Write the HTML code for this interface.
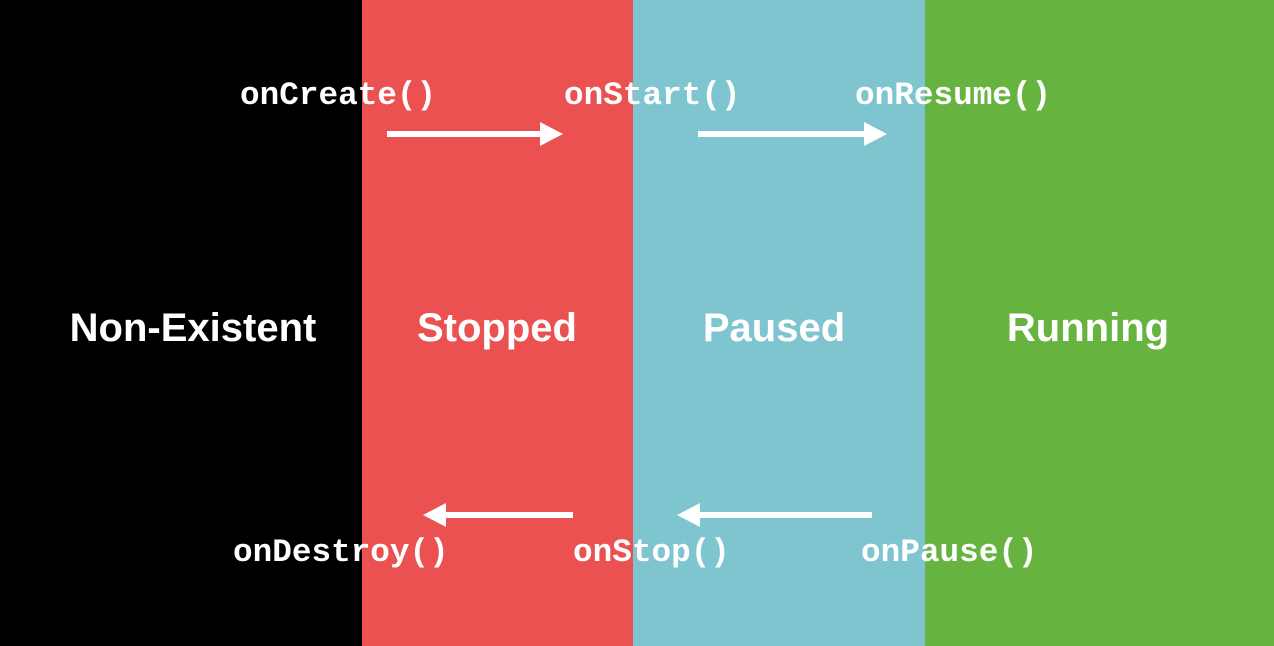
<!DOCTYPE html>
<html><head><style>
body{margin:0;width:1274px;height:646px;position:relative;overflow:hidden;background:#000}
.c{position:absolute;top:0;height:646px}
.m{position:absolute;font-family:"Liberation Mono",monospace;font-weight:bold;font-size:32.7px;color:#fff;line-height:1;white-space:nowrap}
.s{position:absolute;font-family:"Liberation Sans",sans-serif;font-weight:bold;font-size:40px;color:#fff;line-height:1;top:308px;text-align:center;white-space:nowrap}
</style></head><body>
<div class="c" style="left:362px;width:271px;background:#EA5150"></div>
<div class="c" style="left:633px;width:292px;background:#7EC5D0"></div>
<div class="c" style="left:925px;width:349px;background:#66B43F"></div>
<div class="s" style="left:43px;width:300px">Non-Existent</div>
<div class="s" style="left:347px;width:300px">Stopped</div>
<div class="s" style="left:624px;width:300px">Paused</div>
<div class="s" style="left:938px;width:300px">Running</div>
<div class="m" style="left:240px;top:80px">onCreate()</div>
<div class="m" style="left:564px;top:80px">onStart()</div>
<div class="m" style="left:855px;top:80px">onResume()</div>
<div class="m" style="left:233px;top:537px">onDestroy()</div>
<div class="m" style="left:573px;top:537px">onStop()</div>
<div class="m" style="left:861px;top:537px">onPause()</div>
<svg width="1274" height="646" style="position:absolute;left:0;top:0">
<g fill="#fff">
<rect x="387" y="131" width="160" height="6"/><polygon points="540,122 563,134 540,146"/>
<rect x="698" y="131" width="172" height="6"/><polygon points="864,122 887,134 864,146"/>
<rect x="440" y="512" width="133" height="6"/><polygon points="446,503 423,515 446,527"/>
<rect x="694" y="512" width="178" height="6"/><polygon points="700,503 677,515 700,527"/>
</g></svg>
</body></html>
